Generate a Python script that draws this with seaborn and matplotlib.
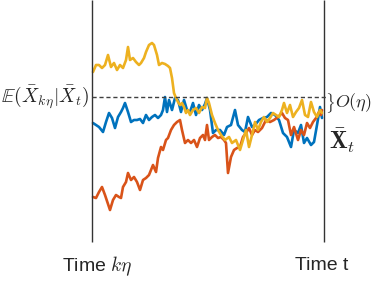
import pandas as pd
import matplotlib
matplotlib.use("Agg")
import matplotlib.pyplot as plt
import seaborn as sns

# Three sample paths of X_bar between time k*eta (t=0) and time t (t=232)
blue_t = [1, 4, 7, 11, 14, 17, 20, 23, 26, 29, 31, 33, 36, 39, 42, 45, 48, 51, 54, 57,
          60, 63, 66, 69, 71, 73, 75, 77, 80, 83, 86, 89, 92, 95, 98, 101, 104, 107, 110, 113,
          115, 118, 121, 124, 128, 132, 135, 139, 143, 146, 150, 153, 156, 160, 163, 167, 171, 175, 179, 183,
          187, 191, 195, 199, 202, 206, 209, 212, 215, 219, 222, 225, 228, 230]
blue_v = [-26, -28, -30, -35, -25, -16, -21, -31, -20, -15, -11, -6, -15, -25, -23, -23, -22, -26, -18, -23,
          -20, -18, -21, -18, -13, 0, -15, -3, -13, -1, -3, -15, -3, -13, -15, -6, -18, -8, -13, -7,
          -1, -13, -36, -33, -33, -38, -30, -28, -13, -28, -33, -35, -20, -30, -28, -23, -21, -20, -16, -18,
          -23, -36, -40, -50, -33, -36, -28, -46, -41, -48, -45, -28, -10, -21]

red_t = [1, 4, 7, 10, 13, 16, 18, 21, 24, 27, 29, 31, 34, 36, 39, 42, 45, 48, 51, 54,
         57, 59, 61, 64, 66, 69, 71, 74, 76, 79, 82, 85, 88, 90, 93, 96, 99, 102, 105, 108,
         111, 113, 115, 117, 120, 123, 126, 129, 132, 134, 136, 139, 142, 145, 148, 151, 154, 157, 160, 163,
         166, 170, 174, 178, 182, 186, 190, 193, 196, 199, 202, 206, 209, 212, 215, 218, 221, 224, 227, 229, 230]
red_v = [-100, -101, -95, -90, -98, -107, -113, -103, -98, -100, -101, -90, -85, -76, -83, -80, -85, -93, -83, -81,
         -78, -73, -68, -75, -61, -50, -53, -43, -41, -33, -28, -25, -23, -33, -46, -43, -46, -43, -50, -41,
         -38, -43, -28, -43, -40, -38, -41, -40, -43, -46, -76, -60, -53, -51, -50, -40, -36, -31, -38, -33,
         -35, -31, -23, -25, -23, -20, -16, -21, -23, -38, -30, -43, -33, -38, -26, -31, -25, -21, -15, -18, -13]

yellow_t = [1, 4, 7, 10, 13, 16, 19, 22, 25, 28, 31, 34, 36, 38, 41, 44, 47, 49, 52, 54,
            57, 60, 62, 65, 67, 70, 73, 76, 78, 80, 82, 84, 86, 88, 90, 92, 94, 96, 98, 101,
            104, 107, 110, 113, 115, 117, 120, 123, 126, 129, 133, 137, 140, 144, 148, 151, 154, 157, 160, 163,
            166, 169, 172, 175, 178, 181, 184, 187, 190, 192, 195, 198, 201, 204, 207, 210, 213, 216, 219, 222,
            225, 228, 230]
yellow_v = [25, 32, 32, 29, 32, 42, 30, 34, 27, 32, 29, 37, 50, 37, 39, 35, 32, 34, 39, 45,
            52, 54, 52, 42, 32, 34, 33, 31, 29, 19, 4, -1, -5, -8, -6, -10, -16, -13, -18, -13,
            -11, -16, -10, -11, -1, -6, -18, -26, -33, -38, -43, -40, -46, -43, -53, -43, -33, -50, -38, -25,
            -33, -25, -20, -25, -21, -16, -18, -20, -13, -6, -16, -8, -20, -15, -11, -3, -18, -20, -5, -15,
            -20, -13, -16]

t_start, t_end = 0, 232
cond_mean = 0

sns.set_style("white")
plt.rcParams["mathtext.fontset"] = "cm"
plt.rcParams["font.family"] = ["Liberation Sans", "DejaVu Sans"]

df = pd.concat([
    pd.DataFrame({"time": blue_t, "value": blue_v, "path": "blue"}),
    pd.DataFrame({"time": red_t, "value": red_v, "path": "red"}),
    pd.DataFrame({"time": yellow_t, "value": yellow_v, "path": "yellow"}),
])

fig = plt.figure(figsize=(3.74, 2.92), dpi=100)
ax = fig.add_axes([0, 0, 1, 1])
sns.lineplot(data=df, x="time", y="value", hue="path", estimator=None, sort=False,
             palette={"blue": "#0072BD", "red": "#D95319", "yellow": "#EDB120"},
             linewidth=1.9, legend=False, ax=ax)

ax.vlines([t_start, t_end], -145, 97, color="0.2", linewidth=1.0)
ax.hlines(cond_mean, t_start, t_end + 2, color="0.25", linewidth=1.0, linestyles=(0, (3, 2)))

# labels
ax.text(t_start - 3, cond_mean, r"$\mathbb{E}(\bar{X}_{k\eta}|\bar{X}_t)$",
        ha="right", va="center", fontsize=14)
ax.text(t_end + 1, -6, r"$\}$", ha="left", va="center", fontsize=12)
ax.text(t_end + 11, -6, r"$O(\eta)$", ha="left", va="center", fontsize=13)
ax.text(t_end + 5, -44, r"$\bar{\mathbf{X}}_t$", ha="left", va="center", fontsize=17)

ax.text(t_start + 5, -169, r"Time $k\eta$", ha="center", va="center", fontsize=14)
ax.text(t_end - 2, -169, "Time t", ha="center", va="center", fontsize=14)

ax.set_xlim(-92, 282)
ax.set_ylim(-195, 97)
ax.axis("off")

plt.savefig("out.png", dpi=100)
